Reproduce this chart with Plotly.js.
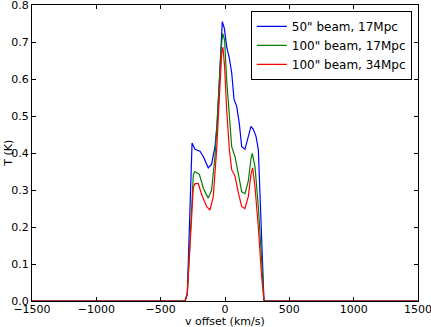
<!DOCTYPE html>
<html><head><meta charset="utf-8">
<script src="https://cdn.plot.ly/plotly-3.0.1.min.js"></script>
<style>html,body{margin:0;padding:0;background:#fff}#c{width:431px;height:327px}</style>
</head><body><div id="c"></div>
<script>
const vBlue = [-1500,-310,-293,-256,-233,-194,-168,-130,-104,-78,-60,-39,-21,-5,13,34,52,70,91,111,130,155,181,202,220,241,259,285,303,320,1500];
const tBlue = [0,0,0.02,0.427,0.41,0.405,0.39,0.36,0.37,0.417,0.48,0.63,0.755,0.737,0.687,0.656,0.617,0.545,0.526,0.48,0.417,0.41,0.445,0.472,0.464,0.445,0.41,0.185,0,0,0];
const vGreen = [-1500,-310,-293,-246,-233,-199,-168,-130,-104,-78,-52,-31,-18,-3,13,34,52,78,104,130,155,181,202,212,233,259,285,303,320,1500];
const tGreen = [0,0,0.02,0.342,0.35,0.342,0.304,0.278,0.3,0.39,0.543,0.678,0.723,0.705,0.597,0.498,0.417,0.39,0.343,0.295,0.29,0.324,0.385,0.399,0.363,0.255,0.11,0,0,0];
const vRed = [-1500,-310,-293,-246,-233,-207,-181,-142,-117,-91,-65,-44,-26,-16,-3,13,34,52,78,104,130,155,181,202,215,233,259,285,303,320,1500];
const tRed = [0,0,0.02,0.308,0.317,0.317,0.287,0.255,0.246,0.282,0.409,0.543,0.668,0.686,0.633,0.516,0.409,0.355,0.337,0.292,0.255,0.25,0.282,0.343,0.36,0.308,0.2,0.064,0,0,0];
const names = ['50" beam, 17Mpc','100" beam, 17Mpc','100" beam, 34Mpc'];
const xTicks = [-1500,-1000,-500,0,500,1000,1500];
const yTicks = [0,0.1,0.2,0.3,0.4,0.5,0.6,0.7,0.8];

const traces = [
  {x:vBlue,y:tBlue,name:names[0],mode:'lines',line:{color:'#0000ff',width:1.2}},
  {x:vGreen,y:tGreen,name:names[1],mode:'lines',line:{color:'#008000',width:1.2}},
  {x:vRed,y:tRed,name:names[2],mode:'lines',line:{color:'#ff0000',width:1.2}}
];
const ax = {showgrid:false,zeroline:false,showline:true,linecolor:'#000',linewidth:1,mirror:'ticks',ticks:'inside',ticklen:4,tickcolor:'#000',ticklabeloverflow:'allow',tickfont:{family:'DejaVu Sans',size:11,color:'#000'}};
const layout = {
  width:431,height:327,
  margin:{l:32,r:13,t:5,b:26},
  paper_bgcolor:'#fff',plot_bgcolor:'#fff',
  font:{family:'DejaVu Sans',color:'#000'},
  xaxis:Object.assign({},ax,{range:[-1500,1500],tickvals:xTicks,ticklabelstandoff:-2,ticktext:xTicks.map(v=>v<0?'\u2212'+(-v):String(v))}),
  yaxis:Object.assign({},ax,{range:[0,0.8],tickvals:yTicks,ticktext:yTicks.map(v=>v.toFixed(1))}),
  annotations:[
    {text:'v offset (km/s)',xref:'paper',yref:'paper',x:0.5,y:-0.07,xanchor:'center',yanchor:'middle',showarrow:false,font:{size:11}},
    {text:'T (K)',xref:'paper',yref:'paper',x:-0.063,y:0.5,xanchor:'center',yanchor:'middle',textangle:-90,showarrow:false,font:{size:11}}
  ],
  showlegend:true,
  legend:{x:0.984,y:0.98,xanchor:'right',yanchor:'top',bgcolor:'#fff',bordercolor:'#000',borderwidth:1,font:{size:12,family:'DejaVu Sans'},tracegroupgap:0}
};
Plotly.newPlot('c',traces,layout,{staticPlot:true});
</script></body></html>
